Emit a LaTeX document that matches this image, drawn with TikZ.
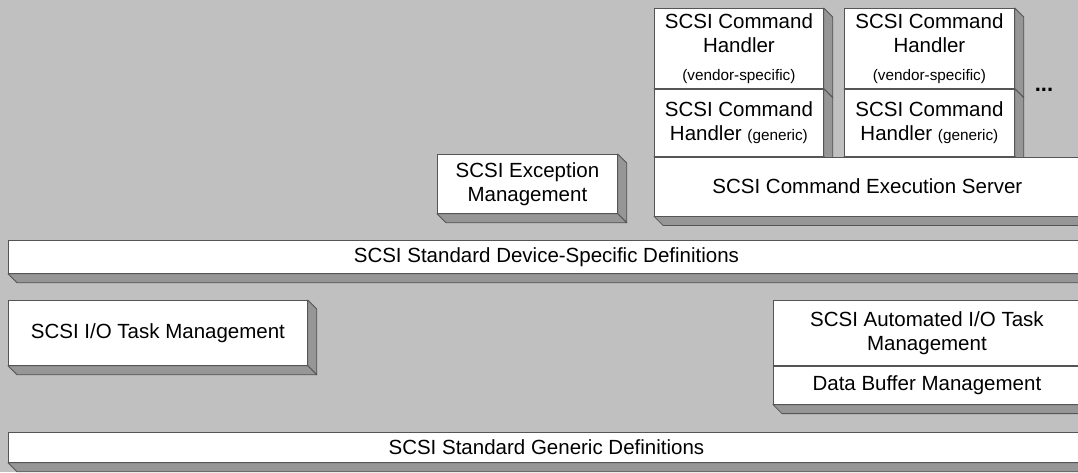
\documentclass[tikz,border=0pt]{standalone}
\usepackage{fontspec}
\setmainfont{Liberation Sans}
\usetikzlibrary{calc}
\usetikzlibrary{positioning}
\pgfdeclarelayer{back}
\pgfsetlayers{back,main}

\definecolor{bgcol}{RGB}{192,192,192}
\definecolor{sidecol}{RGB}{150,150,150}
\definecolor{edgecol}{RGB}{85,85,85}

\tikzset{
  slab/.style = {draw=edgecol, line width=0.8pt, fill=white, inner sep=0pt,
                 anchor=north west, align=center,
                 font=\fontsize{20.5}{24}\selectfont},
  face/.style = {draw=edgecol, line width=0.8pt, fill=sidecol, line join=round}
}
\newcommand{\smalltxt}[1]{{\fontsize{15.3}{18}\selectfont #1}}

\begin{document}
\begin{tikzpicture}[x=1pt, y=-1pt]
      \useasboundingbox (0,0) rectangle (1078,472);

      % command handlers and server
      \node[slab, minimum width=169, minimum height=80] (vendA) at (654,8)
        {SCSI Command\\Handler\\[4pt]\smalltxt{(vendor-specific)}};
      \node[slab, minimum width=169, minimum height=67] (genA) at (vendA.south west)
        {SCSI Command\\Handler \smalltxt{(generic)}};
      \node[slab, minimum width=170, minimum height=80] (vendB) at (844,8)
        {SCSI Command\\Handler\\[4pt]\smalltxt{(vendor-specific)}};
      \node[slab, minimum width=170, minimum height=67] (genB) at (vendB.south west)
        {SCSI Command\\Handler \smalltxt{(generic)}};
      \node[font=\bfseries\fontsize{22}{24}\selectfont] (dots) at (1044,90) {...};
      \node[slab, minimum width=426, minimum height=59] (execsrv) at (genA.south west)
        {SCSI Command Execution Server};
      \node[slab, minimum width=180, minimum height=59] (excmgmt) at (437,154)
        {SCSI Exception\\Management};

      % definitions and task management
      \node[slab, minimum width=1076, minimum height=33] (devdefs) at (8,240)
        {SCSI Standard Device-Specific Definitions};
      \node[slab, minimum width=299, minimum height=65] (iotask) at (8,300)
        {SCSI I/O Task Management};
      \node[slab, minimum width=307, minimum height=65] (autotask) at (773,300)
        {SCSI Automated I/O Task\\Management};
      \node[slab, minimum width=307, minimum height=38] (bufmgmt) at (autotask.south west)
        {Data Buffer Management};
      \node[slab, minimum width=1076, minimum height=30] (gendefs) at (8,432)
        {SCSI Standard Generic Definitions};

      % depth of the boxes
      \begin{pgfonlayer}{back}
        \fill[bgcol] (0,0) rectangle (1078,472);
        \foreach \b in {vendA,genA,vendB,genB,execsrv,excmgmt,devdefs,iotask,autotask,bufmgmt,gendefs}{
          \draw[face] (\b.north east) -- ++(9,9) -- ($(\b.south east)+(9,9)$)
            -- (\b.south east) -- cycle;
          \draw[face] (\b.south west) -- (\b.south east) -- ++(9,9)
            -- ($(\b.south west)+(9,9)$) -- cycle;
        }
      \end{pgfonlayer}
    \end{tikzpicture}
\end{document}
